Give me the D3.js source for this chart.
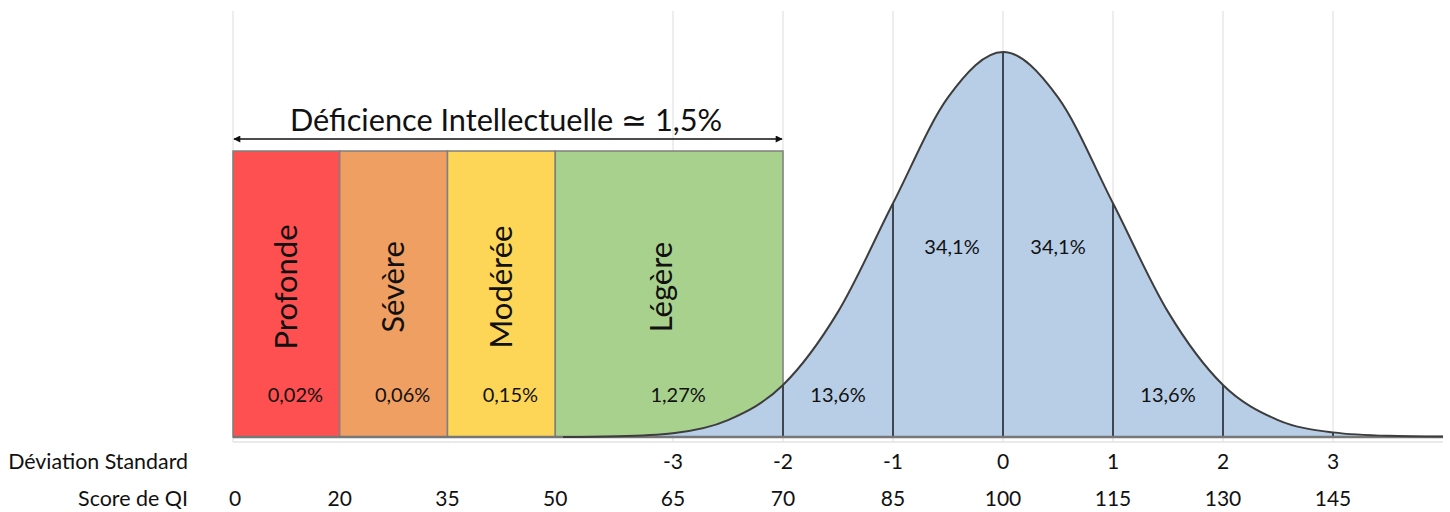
<!DOCTYPE html>
<html>
<head>
<meta charset="utf-8">
<script src="https://cdn.jsdelivr.net/npm/d3@7"></script>
<style>
  body { margin: 0; background: #fff; }
  text { font-family: Lato, "Open Sans", sans-serif; fill: #111; }
</style>
</head>
<body>
<div id="chart"></div>
<script>
// QI categories (score bands) and their share of the population
const bands = ["Profonde", "Sévère", "Modérée", "Légère"];
const bandShare = ["0,02%", "0,06%", "0,15%", "1,27%"];
const bandColors = ["#fe5050", "#f09f62", "#fed657", "#a9d18e"];
// band edges, in standard-deviation units (as read on the picture)
const bandEdges = [-7, -6.03, -5.05, -4.07, -2];

// axis labels
const sdLabels = [-3, -2, -1, 0, 1, 2, 3];
const scoreLabels = [0, 20, 35, 50, 65, 70, 85, 100, 115, 130, 145];
const scoreAt = [-6.98, -6.03, -5.05, -4.07, -3, -2, -1, 0, 1, 2, 3];

// bell curve, relative height read every 0.5 SD from -4 to 4
const curveSd = [-4, -3.5, -3, -2.5, -2, -1.5, -1, -0.5, 0, 0.5, 1, 1.5, 2, 2.5, 3, 3.5, 4];
const curveH = [0.000, 0.002, 0.010, 0.044, 0.135, 0.325, 0.607, 0.882, 1, 0.882, 0.607, 0.325, 0.135, 0.044, 0.012, 0.003, 0.001];

// percentages between SD lines
const segLabels = ["13,6%", "34,1%", "34,1%", "13,6%"];
const segFrom = [-2, -1, 0, 1];

const W = 1450, H = 512;
const svg = d3.select("#chart").append("svg")
  .attr("width", W).attr("height", H)
  .attr("viewBox", `0 0 ${W} ${H}`)
  .style("display", "block");

svg.append("rect").attr("width", W).attr("height", H).attr("fill", "#fff");

const x = d3.scaleLinear().domain([-7, 4]).range([233, 1443]);
const y = d3.scaleLinear().domain([0, 1]).range([437, 52]);

const curvePts = curveSd.map((s, i) => [s, curveH[i]]);
const heightAt = s => curveH[curveSd.indexOf(s)];

// grid
svg.append("g").selectAll("line")
  .data([-7, -3, -2, -1, 0, 1, 2, 3])
  .join("line")
  .attr("x1", d => x(d)).attr("x2", d => x(d))
  .attr("y1", 11).attr("y2", 442)
  .attr("stroke", "#e9e9e9").attr("stroke-width", 1.5);

// light axis line
svg.append("line")
  .attr("x1", x(-7)).attr("x2", x(4))
  .attr("y1", 442).attr("y2", 442)
  .attr("stroke", "#e3e3e3").attr("stroke-width", 1.5);

// bands
svg.append("g").selectAll("rect")
  .data(bands)
  .join("rect")
  .attr("x", (d, i) => x(bandEdges[i]))
  .attr("width", (d, i) => x(bandEdges[i + 1]) - x(bandEdges[i]))
  .attr("y", 151)
  .attr("height", y(0) - 151)
  .attr("fill", (d, i) => bandColors[i])
  .attr("stroke", "#7f7f7f").attr("stroke-width", 1.5);

// bell area
const area = d3.area()
  .x(d => x(d[0])).y0(y(0)).y1(d => y(d[1]))
  .curve(d3.curveMonotoneX);
svg.append("path")
  .datum(curvePts)
  .attr("d", area)
  .attr("fill", "#b8cee7");

// SD lines inside the bell
svg.append("g").selectAll("line")
  .data([-2, -1, 0, 1, 2, 3])
  .join("line")
  .attr("x1", d => x(d)).attr("x2", d => x(d))
  .attr("y1", y(0)).attr("y2", d => y(heightAt(d)))
  .attr("stroke", "#3f4650").attr("stroke-width", 2);

// bottom shadow line
svg.append("line")
  .attr("x1", x(-7)).attr("x2", x(4))
  .attr("y1", y(0)).attr("y2", y(0))
  .attr("stroke", "#777").attr("stroke-width", 2.5);

// curve outline
const line = d3.line()
  .x(d => x(d[0])).y(d => y(d[1]))
  .curve(d3.curveMonotoneX);
svg.append("path")
  .datum(curvePts)
  .attr("d", line)
  .attr("fill", "none")
  .attr("stroke", "#3d3d3d").attr("stroke-width", 2);

// fit helper: scale font so that text spans target width
function fit(sel, target) {
  const len = sel.node().getComputedTextLength();
  const fs = parseFloat(sel.style("font-size"));
  sel.style("font-size", (fs * target / len) + "px");
  return sel;
}

// title + double arrow
const title = svg.append("text")
  .attr("x", 506).attr("y", 131)
  .attr("text-anchor", "middle")
  .style("font-size", "30px")
  .text("Déficience Intellectuelle ≃ 1,5%");
fit(title, 432);

const defs = svg.append("defs");
defs.append("marker")
  .attr("id", "arr").attr("viewBox", "0 0 10 10")
  .attr("refX", 9).attr("refY", 5)
  .attr("markerWidth", 9).attr("markerHeight", 7)
  .attr("markerUnits", "userSpaceOnUse")
  .attr("orient", "auto-start-reverse")
  .append("path").attr("d", "M0,0L10,5L0,10Z").attr("fill", "#111");

svg.append("line")
  .attr("x1", x(bandEdges[0]) + 1).attr("x2", x(bandEdges[4]) - 1)
  .attr("y1", 139).attr("y2", 139)
  .attr("stroke", "#111").attr("stroke-width", 1.5)
  .attr("marker-start", "url(#arr)").attr("marker-end", "url(#arr)");

// band labels
const bandMid = i => (x(bandEdges[i]) + x(bandEdges[i + 1])) / 2;
svg.append("g").selectAll("text")
  .data(bands)
  .join("text")
  .attr("transform", (d, i) => `translate(${bandMid(i) - (i === 3 ? 8 : 0)},287) rotate(-90)`)
  .attr("text-anchor", "middle")
  .attr("dy", "0.35em")
  .style("font-size", "31px")
  .text(d => d);

svg.append("g").selectAll("text")
  .data(bandShare)
  .join("text")
  .attr("x", (d, i) => bandMid(i) + 9)
  .attr("y", 402)
  .attr("text-anchor", "middle")
  .style("font-size", "20px")
  .text(d => d);

// bell percentages
svg.append("g").selectAll("text")
  .data(segLabels)
  .join("text")
  .attr("x", (d, i) => x(segFrom[i] + 0.5) + (segFrom[i] === -1 ? 4 : 0))
  .attr("y", (d, i) => (segFrom[i] === -1 || segFrom[i] === 0) ? 254 : 402)
  .attr("text-anchor", "middle")
  .style("font-size", "20px")
  .text(d => d);

// axis rows
const sdTitle = svg.append("text")
  .attr("x", 188).attr("y", 469)
  .attr("text-anchor", "end")
  .style("font-size", "21px")
  .text("Déviation Standard");
fit(sdTitle, 180);
const qiTitle = svg.append("text")
  .attr("x", 188).attr("y", 506)
  .attr("text-anchor", "end")
  .style("font-size", "21px")
  .text("Score de QI");
fit(qiTitle, 110);

svg.append("g").selectAll("text")
  .data(sdLabels)
  .join("text")
  .attr("x", d => x(d))
  .attr("y", 469)
  .attr("text-anchor", "middle")
  .style("font-size", "21px")
  .text(d => d < 0 ? "-" + Math.abs(d) : d);

svg.append("g").selectAll("text")
  .data(scoreLabels)
  .join("text")
  .attr("x", (d, i) => x(scoreAt[i]))
  .attr("y", 506)
  .attr("text-anchor", "middle")
  .style("font-size", "21px")
  .text(d => d);
</script>
</body>
</html>
